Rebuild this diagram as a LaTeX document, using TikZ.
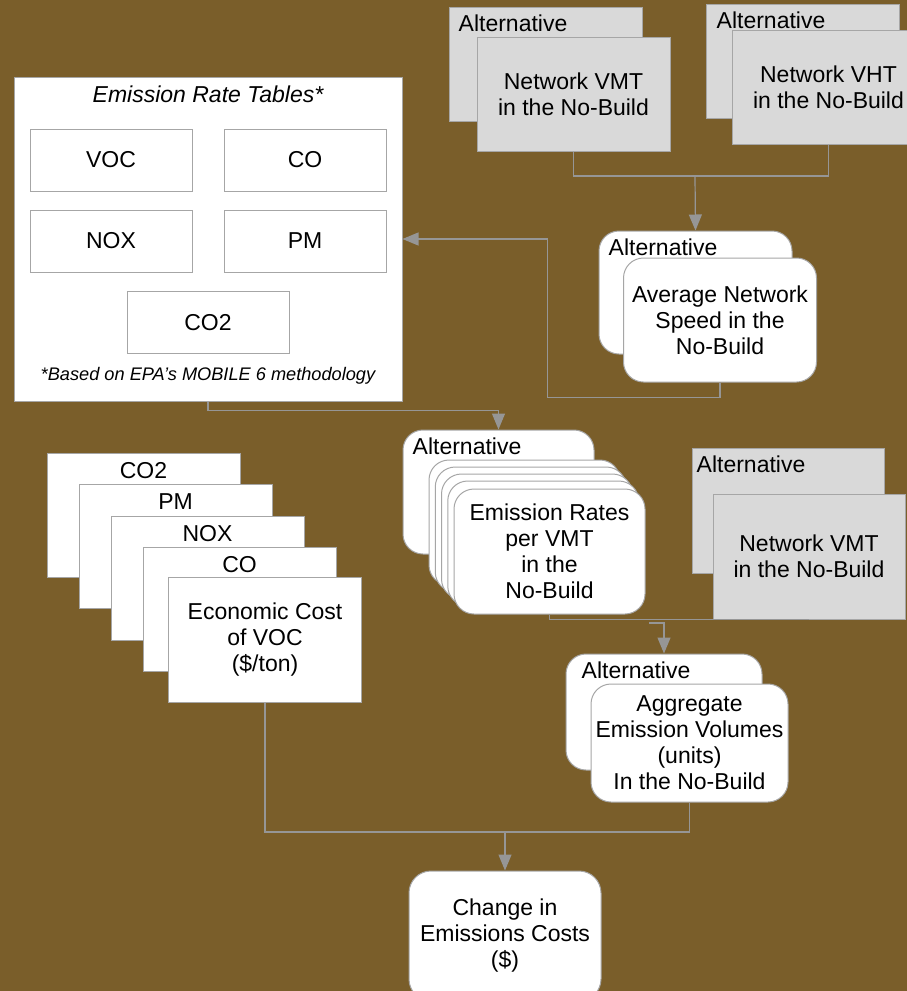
\documentclass[tikz,border=0pt]{standalone}
\usepackage{fontspec}
\setmainfont{Liberation Sans}
\usetikzlibrary{arrows.meta,positioning}
\definecolor{bgbrown}{RGB}{122,94,42}
\definecolor{boxgray}{RGB}{217,217,217}
\definecolor{edgegray}{RGB}{166,166,166}
\definecolor{linegray}{RGB}{150,150,150}

\begin{document}
\begin{tikzpicture}[x=1pt,y=-1pt,
    every node/.style={font=\fontsize{23}{26}\selectfont},
    box/.style={draw=edgegray,line width=1pt,minimum width=193pt,minimum height=124pt,inner sep=0pt,align=center},
    graybox/.style={box,fill=boxgray,minimum height=114pt},
    roundbox/.style={box,fill=white,rounded corners=20pt},
    whitebox/.style={box,fill=white},
    tbl/.style={whitebox,minimum width=162pt,minimum height=62pt},
    altlabel/.style={anchor=north west,inner sep=0pt,xshift=#1,yshift=-8pt},
    altlabel/.default=10pt,
    tag/.style={anchor=north,inner sep=0pt,yshift=-10pt},
    line/.style={draw=linegray,line width=1.2pt},
    arr/.style={line,-{Triangle[width=13pt,length=16pt]}}]
\useasboundingbox (0,0) rectangle (907,991);
\fill[bgbrown] (0,0) rectangle (907,991);
%
% emission rate tables
\node (ert) [whitebox,minimum width=388pt,minimum height=324pt] at (208,239) {};
\node (ertitle) at (208,94) {\itshape Emission Rate Tables*};
\foreach \n/\t/\x/\y in {voc/VOC/111/160, co/CO/305/160, nox/NOX/111/241, pm/PM/305/241, cotwo/CO2/208/322.5}
    \node (\n) [tbl] at (\x,\y) {\t};
\node (ertnote) at (208,376) {\fontsize{18.2}{20}\selectfont\itshape *Based on EPA’s MOBILE 6 methodology};
%
% network VMT and VHT
\node (vmtback)  [graybox] at (545.5,64) {};
\node [altlabel] at (vmtback.north west) {Alternative};
\node (vmtfront) [graybox] at (573.5,94) {Network VMT\\in the No-Build};
\node (vhtback)  [graybox] at (802.5,61.5) {};
\node [altlabel=11pt] at (vhtback.north west) {Alternative};
\node (vhtfront) [graybox] at (828.5,87.5) {Network VHT\\in the No-Build};
%
% average speed
\node (spdback)  [roundbox,minimum height=123pt] at (695.5,292.5) {};
\node [altlabel] at (spdback.north west) {Alternative};
\node (spdfront) [roundbox] at (720,320) {Average Network\\Speed in the\\No-Build};
%
% emission rates
\node (rateback) [roundbox,minimum width=191pt] at (498.5,492) {};
\node [altlabel] at (rateback.north west) {Alternative};
\foreach \k in {0,...,3}
    \node (rate\k) [roundbox,minimum width=191pt,minimum height=125pt] at ({524.5+6.25*\k},{522.5+7*\k}) {};
\node (ratefront) [roundbox,minimum width=191pt,minimum height=125pt] at (549.5,551.5) {Emission Rates\\per VMT\\in the\\No-Build};
%
\node (vmt2back)  [graybox,minimum width=192pt,minimum height=125pt] at (788,510.5) {};
\node [altlabel=5pt] at (vmt2back.north west) {Alternative};
\node (vmt2front) [graybox,minimum width=192pt,minimum height=125pt] at (809,556.5) {Network VMT\\in the No-Build};
%
% aggregate volumes
\node (aggback)  [roundbox,minimum width=196pt,minimum height=116pt] at (664,712) {};
\node [altlabel=16pt] at (aggback.north west) {Alternative};
\node (aggfront) [roundbox,minimum width=197pt,minimum height=118pt] at (689.5,743) {Aggregate\\Emission Volumes\\(units)\\In the No-Build};
%
% economic costs
\foreach \t/\x/\y [count=\i] in {CO2/143.5/515, PM/175.5/546, NOX/207.5/578, CO/239.5/609}
{
    \node (cost\i) [whitebox] at (\x,\y) {};
    \node [tag] at (cost\i.north) {\t};
}
\node (costfront) [whitebox,minimum height=125pt] at (265,639.5) {Economic Cost\\of VOC\\(\$/ton)};
%
\node (change) [roundbox,minimum width=192pt,minimum height=130pt,rounded corners=22pt] at (505,936) {Change in\\Emissions Costs\\(\$)};
%
% connectors
\coordinate (j1) at (695,176);
\coordinate (stub) at (649,623);
\coordinate (j2) at (505,832);
\draw[line] (vmtfront.south) |- (j1) -| (vhtfront.south);
\draw[arr] (j1) -- (spdback.north);
\draw[arr] (spdfront.south) -- ++(0,15) -| ([xshift=145pt]ert.east) -- (ert.east);
\draw[arr] (ert.south) -- ++(0,9) -| (rateback.north);
\draw[line] (ratefront.south) |- (vmt2front.south);
\draw[arr] (stub) -| (aggback.north);
\draw[line] (costfront.south) |- (j2) -| (aggfront.south);
\draw[arr] (j2) -- (change.north);
\end{tikzpicture}
\end{document}
